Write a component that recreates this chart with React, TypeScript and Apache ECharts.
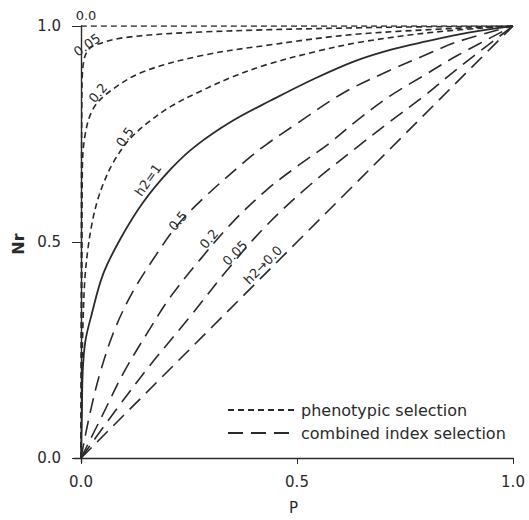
import { useEffect, useRef } from "react";
import * as echarts from "echarts";

// axis ticks
const X_TICKS = [0, 0.5, 1];
const Y_TICKS = [0, 0.5, 1];

// phenotypic selection curves [P, Nr]
const PHENO_00 = [[0, 1], [1, 1]];
const PHENO_005 = [[0, 0], [0.001, 0.6], [0.002, 0.83], [0.003, 0.885], [0.007, 0.922], [0.015, 0.942], [0.028, 0.954], [0.1, 0.973], [0.277, 0.986], [0.649, 0.996], [1, 1]];
const PHENO_02 = [[0, 0], [0.002, 0.4], [0.003, 0.66], [0.009, 0.745], [0.028, 0.808], [0.067, 0.849], [0.144, 0.894], [0.277, 0.931], [0.428, 0.955], [0.649, 0.982], [1, 1]];
const PHENO_05 = [[0, 0], [0.002, 0.19], [0.005, 0.323], [0.009, 0.415], [0.016, 0.484], [0.026, 0.546], [0.037, 0.592], [0.051, 0.633], [0.074, 0.683], [0.11, 0.735], [0.153, 0.775], [0.21, 0.815], [0.277, 0.849], [0.35, 0.882], [0.428, 0.91], [0.54, 0.94], [0.649, 0.963], [0.82, 0.986], [1, 1]];

// h2 = 1 (both selections coincide)
const H2_1 = [[0, 0], [0.002, 0.1], [0.004, 0.2], [0.01, 0.27], [0.024, 0.33], [0.051, 0.425], [0.091, 0.507], [0.144, 0.592], [0.207, 0.668], [0.265, 0.722], [0.35, 0.78], [0.44, 0.828], [0.54, 0.878], [0.637, 0.92], [0.72, 0.946], [0.793, 0.963], [0.9, 0.985], [1, 1]];

// combined index selection curves
const COMB_05 = [[0, 0], [0.02, 0.1], [0.045, 0.2], [0.079, 0.3], [0.12, 0.385], [0.167, 0.46], [0.22, 0.535], [0.28, 0.598], [0.381, 0.688], [0.428, 0.725], [0.498, 0.773], [0.607, 0.845], [0.714, 0.897], [0.793, 0.931], [0.87, 0.963], [1, 1]];
const COMB_02 = [[0, 0], [0.05, 0.1], [0.1, 0.2], [0.16, 0.3], [0.207, 0.373], [0.277, 0.461], [0.35, 0.545], [0.428, 0.619], [0.5, 0.675], [0.574, 0.728], [0.637, 0.78], [0.714, 0.837], [0.793, 0.885], [0.87, 0.931], [1, 1]];
const COMB_005 = [[0, 0], [0.08, 0.11], [0.16, 0.215], [0.253, 0.328], [0.34, 0.437], [0.428, 0.537], [0.53, 0.632], [0.637, 0.718], [0.714, 0.778], [0.793, 0.837], [0.87, 0.9], [1, 1]];
const COMB_00 = [[0, 0], [1, 1]];

const PHENO_NAME = "phenotypic selection";
const COMB_NAME = "combined index selection";

const INK = "#2a2a2a";
const FONT = "DejaVu Sans";

export default function App() {
  const ref = useRef<HTMLDivElement>(null);
  useEffect(() => {
    const chart = echarts.init(ref.current!, null, { renderer: "svg" });
    const shortDash = { color: INK, width: 1.6, type: [6, 4] as any };
    const longDash = { color: INK, width: 1.6, type: [15, 8] as any };
    const mk = (name: string, data: number[][], lineStyle: any) => ({
      type: "line",
      name,
      data,
      symbol: "none",
      showSymbol: false,
      smooth: 0.35,
      silent: true,
      lineStyle,
      itemStyle: { color: INK, opacity: 0 },
    });
    const lbl = (text: string, x: number, y: number, deg: number, size = 13) => ({
      type: "text",
      x,
      y,
      rotation: (deg * Math.PI) / 180,
      silent: true,
      style: { text, fill: INK, fontSize: size, fontFamily: FONT, align: "center", verticalAlign: "middle" },
    });
    chart.setOption({
      animation: false,
      textStyle: { fontFamily: FONT },
      grid: { left: 74, right: 16, top: 26, bottom: 53 },
      xAxis: {
        type: "value",
        min: -0.0162,
        max: 1,
        name: "P",
        nameLocation: "middle",
        nameGap: 38,
        nameTextStyle: { color: INK, fontSize: 15, fontFamily: FONT },
        axisLine: { lineStyle: { color: INK, width: 1.4 } },
        axisTick: { length: 6, lineStyle: { color: INK }, customValues: X_TICKS },
        axisLabel: { color: INK, fontSize: 15, margin: 12, customValues: X_TICKS, formatter: (v: number) => v.toFixed(1) },
        splitLine: { show: false },
      },
      yAxis: {
        type: "value",
        min: -0.00915,
        max: 1,
        name: "Nr",
        nameLocation: "middle",
        nameRotate: 90,
        nameGap: 46,
        nameTextStyle: { color: INK, fontSize: 16, fontWeight: "bold", fontFamily: FONT },
        axisLine: { show: true, lineStyle: { color: INK, width: 1.4 } },
        axisTick: { show: true, length: 9, lineStyle: { color: INK }, customValues: Y_TICKS },
        axisLabel: { color: INK, fontSize: 15, margin: 13, customValues: Y_TICKS, formatter: (v: number) => v.toFixed(1) },
        splitLine: { show: false },
      },
      legend: {
        orient: "vertical",
        left: 222,
        top: 397,
        itemWidth: 68,
        itemHeight: 10,
        itemGap: 7,
        selectedMode: false,
        data: [PHENO_NAME, COMB_NAME],
        itemStyle: { opacity: 0 },
        textStyle: { color: INK, fontSize: 16, fontFamily: FONT },
      },
      series: [
        mk(PHENO_NAME, PHENO_00, shortDash),
        mk(PHENO_NAME, PHENO_005, shortDash),
        mk(PHENO_NAME, PHENO_02, shortDash),
        mk(PHENO_NAME, PHENO_05, shortDash),
        mk("h2=1", H2_1, { color: INK, width: 1.8, type: "solid" }),
        mk(COMB_NAME, COMB_05, longDash),
        mk(COMB_NAME, COMB_02, longDash),
        mk(COMB_NAME, COMB_005, longDash),
        mk(COMB_NAME, COMB_00, longDash),
      ],
      graphic: [
        lbl("0.0", 86, 15, 0),
        lbl("0.05", 87, 45, 35),
        lbl("0.2", 98, 93, 50),
        lbl("0.5", 125, 137, 55),
        lbl("h2=1", 148, 180, 55),
        lbl("0.5", 178, 221, 50),
        lbl("0.2", 209, 239, 50),
        lbl("0.05", 235, 253, 45),
        lbl("h2→0.0", 263, 265, 45),
      ],
    });
    return () => chart.dispose();
  }, []);
  return <div ref={ref} style={{ position: "fixed", left: 0, top: 0, width: 529, height: 520, background: "#fff" }} />;
}
